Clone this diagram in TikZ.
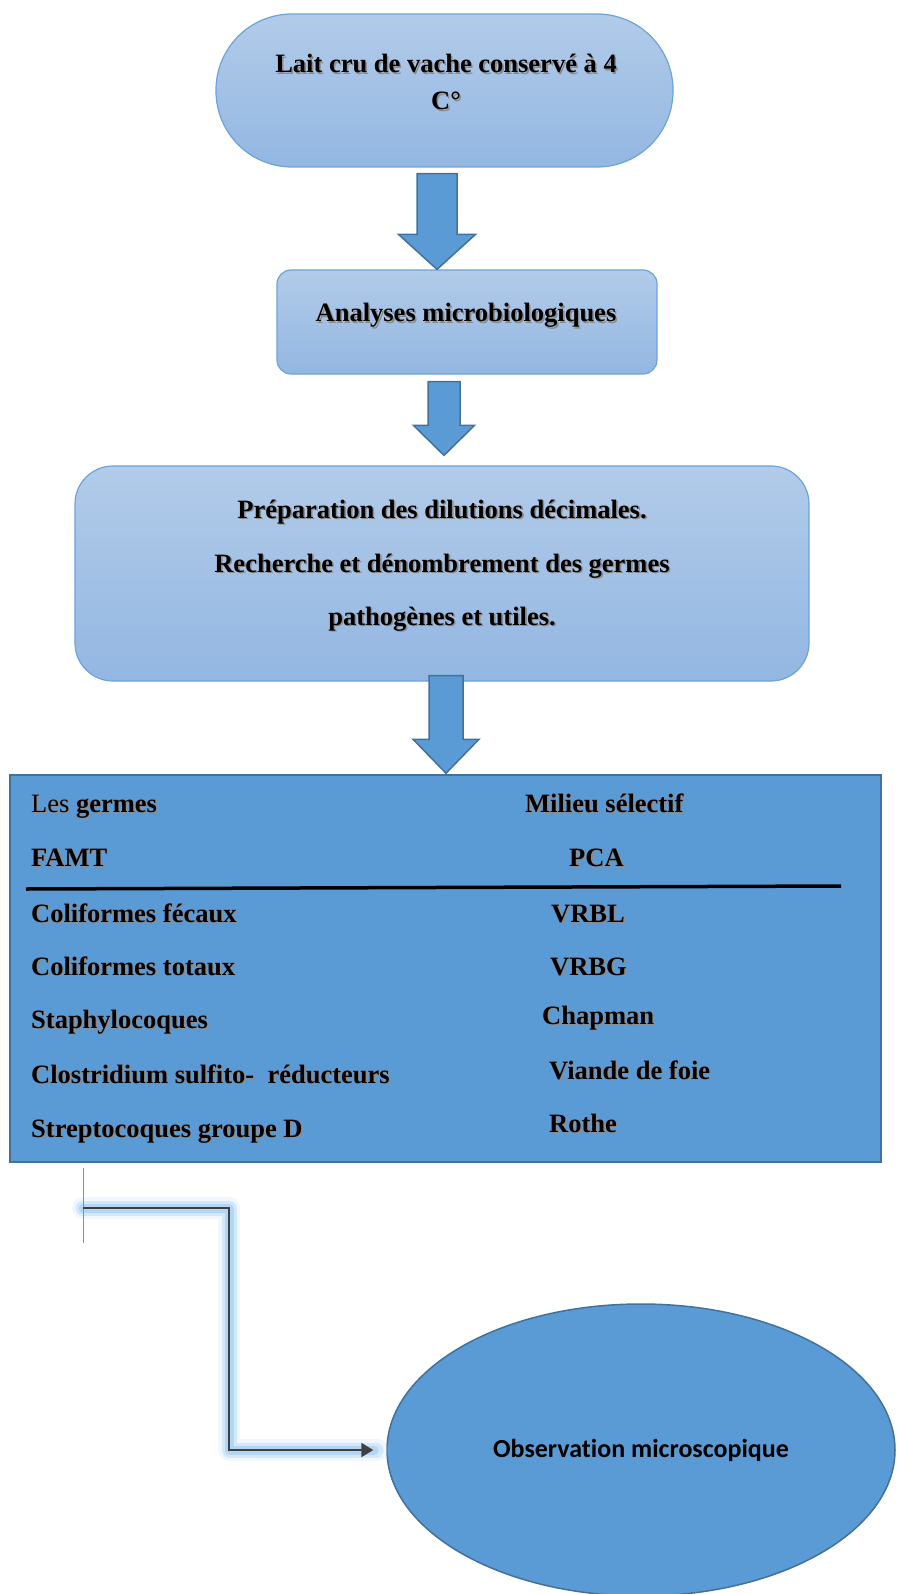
\documentclass[tikz,border=0pt]{standalone}
\usepackage{fontspec}
\setmainfont{Liberation Serif}
\newfontfamily\calib[Ligatures=NoCommon]{Carlito}
\usetikzlibrary{calc,arrows.meta,shapes.geometric}
\definecolor{boxtop}{HTML}{B2CBE9}
\definecolor{boxbot}{HTML}{93B7E2}
\definecolor{boxline}{HTML}{6CA3DA}
\definecolor{fillblue}{HTML}{5B9BD5}
\definecolor{darkblue}{HTML}{41719C}
\definecolor{glowblue}{HTML}{9DCBF5}
\newcommand{\sh}[1]{\makebox[0pt][l]{\hspace{1.6pt}\raisebox{-1.6pt}{\color{black!45}#1}}#1}
\newcommand{\blockarrow}[5]{%
\path[bigarrow] let \p1=#1, \p2=#2 in (\x1-#3pt,\y1) -- (\x1+#3pt,\y1) -- (\x1+#3pt,\y2+#5pt) -- (\x1+#4pt,\y2+#5pt) -- (\x1,\y2) -- (\x1-#4pt,\y2+#5pt) -- (\x1-#3pt,\y2+#5pt) -- cycle;}
\tikzset{
  flowbox/.style={draw=boxline,line width=1.2pt,top color=boxtop,bottom color=boxbot,inner sep=0pt},
  bigarrow/.style={draw=darkblue,line width=1.5pt,fill=fillblue,line join=miter},
  txt/.style={font=\fontsize{26.5}{32}\selectfont\bfseries,inner sep=0pt},
  glowline/.style={glowblue,line cap=round,line join=round}
}
\begin{document}
\begin{tikzpicture}[x=1pt,y=-1pt]
\useasboundingbox (0,0) rectangle (896,1594);
\node[flowbox,rounded corners=76pt,minimum width=457pt,minimum height=153pt] (lait) at (444.5,90.5) {};
\node[txt,anchor=base] (laitA) at (446,73) {\sh{Lait cru de vache conservé à 4}};
\node[txt,anchor=base] (laitB) at (446,110) {\sh{C°}};
\node[flowbox,rounded corners=14pt,minimum width=380pt,minimum height=104pt] (analyses) at (467,322) {};
\node[txt,anchor=base] (analysesT) at (466,322) {\sh{Analyses microbiologiques}};
\node[flowbox,rounded corners=38pt,minimum width=734pt,minimum height=215pt] (prep) at (442,573.5) {};
\node[txt,anchor=base] (prepA) at (442,518) {\sh{Préparation des dilutions décimales.}};
\node[txt,anchor=base] (prepB) at (442,572) {\sh{Recherche et dénombrement des germes}};
\node[txt,anchor=base] (prepC) at (442,625) {\sh{pathogènes et utiles.}};
\node[draw=darkblue,line width=1.5pt,fill=fillblue,minimum width=871pt,minimum height=387pt,inner sep=0pt] (table) at (445.5,968.5) {};
\blockarrow{($(lait.south)+(-7.5,6)$)}{($(analyses.north)+(0,0)$)}{20}{38.5}{35}
\blockarrow{($(analyses.south)+(-23,7)$)}{($(prep.north)+(0,-10)$)}{16}{30.5}{30}
\blockarrow{($(prep.south)+(4,-6)$)}{($(table.north)+(0,-1)$)}{17}{33}{34}
\node[txt,anchor=base west] (germes) at (31,812) {\sh{\mdseries Les \bfseries germes}};
\node[txt,anchor=base west] (milieu) at (525,812) {\sh{Milieu sélectif}};
\node[txt,anchor=base west] (famt) at (31,866) {\sh{FAMT}};
\node[txt,anchor=base west] (pca) at (569,866) {\sh{PCA}};
\draw[line width=3.5pt] (26,889) -- (841,886);
\node[txt,anchor=base west] (cf) at (31,922) {\sh{Coliformes fécaux}};
\node[txt,anchor=base west] (vrbl) at (551,922) {\sh{VRBL}};
\node[txt,anchor=base west] (ct) at (31,975) {\sh{Coliformes totaux}};
\node[txt,anchor=base west] (vrbg) at (550,975) {\sh{VRBG}};
\node[txt,anchor=base west] (staph) at (31,1028) {\sh{Staphylocoques}};
\node[txt,anchor=base west] (chap) at (542,1024) {\sh{Chapman}};
\node[txt,anchor=base west] (clos) at (31,1083) {\sh{Clostridium sulfito-\ \ réducteurs}};
\node[txt,anchor=base west] (viande) at (549,1079) {\sh{Viande de foie}};
\node[txt,anchor=base west] (strep) at (31,1137) {\sh{Streptocoques groupe D}};
\node[txt,anchor=base west] (rothe) at (549,1132) {\sh{Rothe}};
\node[ellipse,draw=darkblue,line width=1.5pt,fill=fillblue,minimum width=508pt,minimum height=292pt,inner sep=0pt,font=\calib\fontsize{26}{30}\selectfont\bfseries] (obs) at (641,1450) {Observation microscopique};
\coordinate (cstart) at (83,1208);
\coordinate (bend) at (229,1208);
\draw[glowline,line width=22pt,opacity=.15] (cstart) -- (bend) |- ($(obs.west)+(-8,0)$);
\draw[glowline,line width=15pt,opacity=.35] (cstart) -- (bend) |- ($(obs.west)+(-10,0)$);
\draw[glowline,line width=9pt,opacity=.6] (cstart) -- (bend) |- ($(obs.west)+(-12,0)$);
\draw[fillblue,line width=0.8pt] ($(cstart)+(0,-40)$) -- ($(cstart)+(0,35)$);
\draw[black!75,line width=2.5pt,-{Triangle[length=12pt,width=14pt]}] (cstart) -- (bend) |- ($(obs.west)+(-13,0)$);
\end{tikzpicture}
\end{document}
